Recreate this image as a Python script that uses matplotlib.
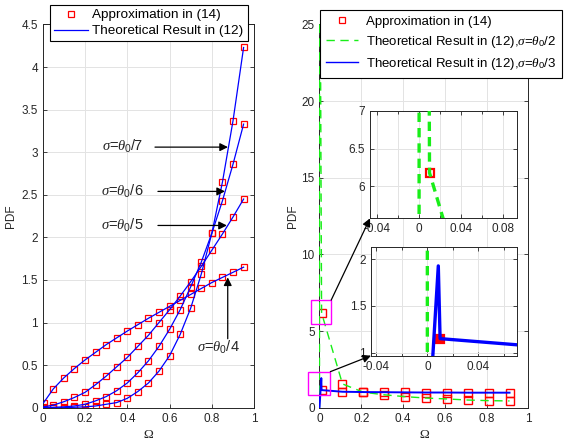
import matplotlib
matplotlib.use('Agg')
import matplotlib.pyplot as plt
from matplotlib.patches import Rectangle

plt.rcParams['font.family'] = ['Liberation Sans', 'DejaVu Sans']
plt.rcParams['mathtext.fontset'] = 'custom'
plt.rcParams['mathtext.rm'] = 'Liberation Sans'
plt.rcParams['mathtext.it'] = 'Liberation Serif:italic'
plt.rcParams['mathtext.bf'] = 'Liberation Sans:bold'
plt.rcParams['axes.unicode_minus'] = False

# ---------------- data: left panel ----------------
omega_left = [0.005, 0.05, 0.10, 0.15, 0.20, 0.25, 0.30, 0.35, 0.40, 0.45,
              0.50, 0.55, 0.60, 0.65, 0.70, 0.75, 0.80, 0.85, 0.90, 0.95]
pdf_s4 = [0.06, 0.22, 0.35, 0.46, 0.56, 0.65, 0.74, 0.82, 0.90, 0.975,
          1.05, 1.12, 1.19, 1.26, 1.33, 1.40, 1.47, 1.53, 1.59, 1.65]
pdf_s5 = [0.01, 0.03, 0.07, 0.12, 0.18, 0.27, 0.37, 0.48, 0.59, 0.72,
          0.85, 1.00, 1.15, 1.31, 1.48, 1.66, 1.85, 2.04, 2.24, 2.45]
pdf_s6 = [0.0, 0.005, 0.01, 0.02, 0.04, 0.08, 0.13, 0.20, 0.29, 0.41,
          0.55, 0.72, 0.92, 1.15, 1.42, 1.71, 2.05, 2.43, 2.86, 3.33]
pdf_s7 = [0.0, 0.0, 0.0, 0.005, 0.01, 0.02, 0.04, 0.06, 0.11, 0.19,
          0.29, 0.43, 0.61, 0.86, 1.17, 1.57, 2.05, 2.65, 3.37, 4.23]
left_curves = [pdf_s4, pdf_s5, pdf_s6, pdf_s7]

left_xticks = [0, 0.2, 0.4, 0.6, 0.8, 1]
left_xticklabels = ['0', '0.2', '0.4', '0.6', '0.8', '1']
left_yticks = [0, 0.5, 1, 1.5, 2, 2.5, 3, 3.5, 4, 4.5]
left_yticklabels = ['0', '0.5', '1', '1.5', '2', '2.5', '3', '3.5', '4', '4.5']

# ---------------- data: right panel ----------------
omega_right = [0.01, 0.11, 0.21, 0.31, 0.41, 0.51, 0.61, 0.71, 0.81, 0.91]
approx_s2 = [6.18, 1.55, 1.01, 0.84, 0.72, 0.63, 0.57, 0.50, 0.46, 0.44]
approx_s3 = [1.15, 1.04, 1.02, 1.01, 1.00, 0.99, 0.99, 0.98, 0.98, 0.98]
theory_s2_x = [0.0, 0.0] + omega_right
theory_s2_y = [0.0, 40.0] + approx_s2
theory_s3_x = [0.0, 0.0086] + omega_right
theory_s3_y = [0.0, 1.93] + approx_s3

right_xticks = [0, 0.2, 0.4, 0.6, 0.8, 1]
right_xticklabels = ['0', '0.2', '0.4', '0.6', '0.8', '1']
right_yticks = [0, 5, 10, 15, 20, 25]
right_yticklabels = ['0', '5', '10', '15', '20', '25']

in1_xticks = [-0.04, 0, 0.04, 0.08]
in1_xticklabels = ['-0.04', '0', '0.04', '0.08']
in1_yticks = [6, 6.5, 7]
in1_yticklabels = ['6', '6.5', '7']
in2_xticks = [-0.04, 0, 0.04]
in2_xticklabels = ['-0.04', '0', '0.04']
in2_yticks = [1, 1.5, 2]
in2_yticklabels = ['1', '1.5', '2']
in_minor_x = [-0.02, 0.02, 0.06]

# ---------------- styling ----------------
DARK = '#262626'
GRID = '#e3e3e3'
BLUE = '#0000ff'
GREEN = '#18ee18'
RED = '#ff0000'
TICKFS = 8.5


def style(ax):
    ax.tick_params(which='both', direction='in', top=True, right=True,
                   length=3, width=0.6, colors=DARK, labelsize=TICKFS, pad=3.5)
    ax.tick_params(which='minor', length=2)
    for s in ax.spines.values():
        s.set_color(DARK)
        s.set_linewidth(0.7)
    ax.grid(True, which='both', color=GRID, lw=0.7)
    ax.set_axisbelow(True)


fig = plt.figure(figsize=(5.69, 4.43), dpi=100)

# ================= left panel =================
ax1 = fig.add_axes([0.075, 0.0797, 0.3717, 0.865])
style(ax1)
for pdf in left_curves:
    ax1.plot(omega_left, pdf, 's', mfc='none', mec=RED, ms=4.3, mew=0.9, zorder=2)
    ax1.plot(omega_left, pdf, '-', color=BLUE, lw=0.9, zorder=3)
ax1.set_xlim(0, 1)
ax1.set_ylim(0, 4.5)
ax1.set_xticks(left_xticks, left_xticklabels)
ax1.set_yticks(left_yticks, left_yticklabels)
ax1.set_xlabel('Ω', family='Liberation Serif', fontsize=9.5, color=DARK, labelpad=3)
ax1.set_ylabel('PDF', fontsize=8.5, color=DARK, labelpad=3)

h_mk, = ax1.plot([], [], 's', mfc='none', mec=RED, ms=4.3, mew=0.9)
h_ln, = ax1.plot([], [], '-', color=BLUE, lw=0.9)
leg1 = ax1.legend([h_mk, h_ln], ['Approximation in (14)', 'Theoretical Result in (12)'],
                  loc='upper left', bbox_to_anchor=(0.034, 1.051), borderaxespad=0,
                  fontsize=9.7, numpoints=1, handlelength=2.5, handletextpad=0.35,
                  borderpad=0.3, labelspacing=0.25, fancybox=False,
                  edgecolor='black', framealpha=1)
leg1.get_frame().set_linewidth(0.8)

arrow_kw = dict(arrowstyle='-|>', color='black', lw=0.9, mutation_scale=12,
                shrinkA=0, shrinkB=0)
ann_fs = 10.5
# sigma = theta0/7, /6, /5 horizontal arrows
for label, y, xt, xh in [(r'$\sigma$=$\theta_0$/7', 3.06, 0.531, 0.876),
                         (r'$\sigma$=$\theta_0$/6', 2.54, 0.545, 0.862),
                         (r'$\sigma$=$\theta_0$/5', 2.14, 0.545, 0.871)]:
    ax1.annotate('', xy=(xh, y), xytext=(xt, y), arrowprops=arrow_kw, zorder=5)
    ax1.text(0.478, y - 0.05, label, ha='right', va='baseline', fontsize=ann_fs, color=DARK)
# sigma = theta0/4 vertical arrow
ax1.annotate('', xy=(0.875, 1.53), xytext=(0.875, 0.81), arrowprops=arrow_kw, zorder=5)
ax1.text(0.829, 0.66, r'$\sigma$=$\theta_0$/4', ha='center', va='baseline',
         fontsize=ann_fs, color=DARK)

# ================= right panel =================
ax2 = fig.add_axes([0.5615, 0.0797, 0.367, 0.865])
style(ax2)
mk_r = dict(mfc='none', mec=RED, ms=5.5, mew=1.0)
ax2.plot(omega_right, approx_s2, 's', zorder=2, **mk_r)
ax2.plot(omega_right, approx_s3, 's', zorder=2, **mk_r)
g_line, = ax2.plot(theory_s2_x, theory_s2_y, '--', color=GREEN, lw=1.0, dashes=(6, 4), zorder=3)
b_line, = ax2.plot(theory_s3_x, theory_s3_y, '-', color=BLUE, lw=1.4, zorder=3)
ax2.set_xlim(0, 1)
ax2.set_ylim(0, 25)
ax2.set_xticks(right_xticks, right_xticklabels)
ax2.set_yticks(right_yticks, right_yticklabels)
ax2.set_xlabel('Ω', family='Liberation Serif', fontsize=9.5, color=DARK, labelpad=3)
ax2.set_ylabel('PDF', fontsize=8.5, color=DARK, labelpad=2)

h_mk2, = ax2.plot([], [], 's', mfc='none', mec=RED, ms=4.3, mew=0.9)
h_g, = ax2.plot([], [], '--', color=GREEN, lw=1.0, dashes=(6, 4))
h_b, = ax2.plot([], [], '-', color=BLUE, lw=1.0)
leg2 = ax2.legend([h_mk2, h_g, h_b],
                  ['Approximation in (14)',
                   r'Theoretical Result in (12),$\sigma$=$\theta_0$/2',
                   r'Theoretical Result in (12),$\sigma$=$\theta_0$/3'],
                  loc='upper left', bbox_to_anchor=(0.0024, 1.038), borderaxespad=0,
                  fontsize=9.5, numpoints=1, handlelength=2.4, handletextpad=0.6,
                  borderpad=0.45, labelspacing=0.45, fancybox=False,
                  edgecolor='black', framealpha=1)
leg2.get_frame().set_linewidth(0.8)
leg2.set_zorder(10)

# zoom boxes on the main right axes
for (bx, by, bw, bh) in [(-0.042, 5.46, 0.098, 1.56), (-0.055, 0.83, 0.107, 1.52)]:
    ax2.add_patch(Rectangle((bx, by), bw, bh, fill=False, edgecolor='#ff00ff',
                            lw=1.0, clip_on=False, zorder=6))

# ---- inset 1 (sigma = theta0/2 near zero) ----
axin1 = fig.add_axes([0.6503, 0.5072, 0.2578, 0.2429])
style(axin1)
axin1.plot(omega_right, approx_s2, 's', mfc='none', mec=RED, ms=6, mew=1.6, zorder=2)
axin1.plot(theory_s2_x, theory_s2_y, '--', color=GREEN, lw=2.4, dashes=(2.8, 1.8), zorder=3)
axin1.plot(theory_s3_x, theory_s3_y, '-', color=BLUE, lw=2.4, zorder=3)
axin1.set_xlim(-0.047, 0.0935)
axin1.set_ylim(5.58, 7.0)
axin1.set_xticks(in1_xticks, in1_xticklabels)
axin1.set_xticks(in_minor_x, minor=True)
axin1.set_yticks(in1_yticks, in1_yticklabels)

# ---- inset 2 (sigma = theta0/3 near zero) ----
axin2 = fig.add_axes([0.652, 0.1971, 0.2561, 0.246])
style(axin2)
axin2.plot(omega_right, approx_s3, 's', mfc=RED, mec=RED, ms=6, mew=1.6, zorder=2)
axin2.plot(theory_s2_x, theory_s2_y, '--', color=GREEN, lw=2.4, dashes=(2.8, 1.8), zorder=3)
axin2.plot(theory_s3_x, theory_s3_y, '-', color=BLUE, lw=2.4, zorder=3)
axin2.set_xlim(-0.0442, 0.0701)
axin2.set_ylim(0.967, 2.136)
axin2.set_xticks(in2_xticks, in2_xticklabels)
axin2.set_xticks(in_minor_x, minor=True)
axin2.set_yticks(in2_yticks, in2_yticklabels)

# arrows from the zoom boxes to the insets
arr2 = dict(arrowstyle='-|>', color='black', lw=0.9, mutation_scale=12,
            shrinkA=0, shrinkB=0)
axin1.annotate('', xy=(0, 0), xycoords='axes fraction', xytext=(0.056, 7.02),
               textcoords=ax2.transData, arrowprops=arr2, annotation_clip=False)
axin2.annotate('', xy=(0, 0), xycoords='axes fraction', xytext=(0.052, 2.35),
               textcoords=ax2.transData, arrowprops=arr2, annotation_clip=False)

fig.savefig('out.png', dpi=100)
